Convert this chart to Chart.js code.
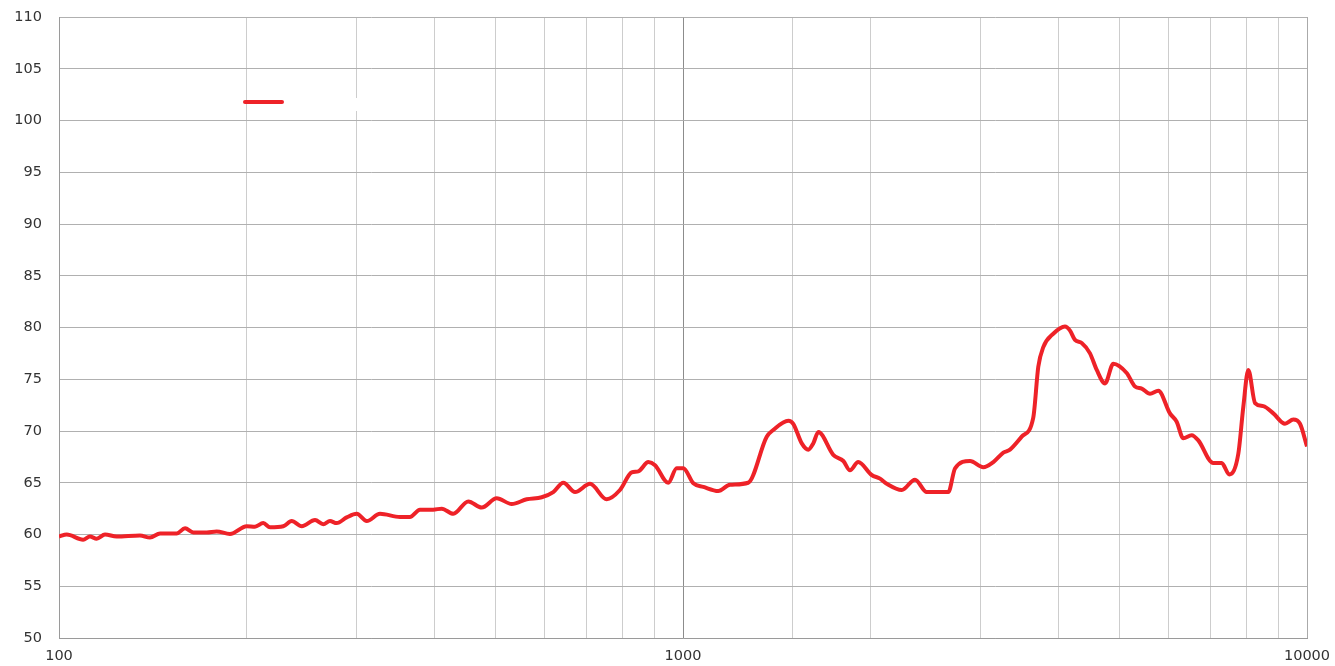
<!DOCTYPE html>
<html>
<head>
<meta charset="utf-8">
<script src="https://cdn.jsdelivr.net/npm/chart.js@4/dist/chart.umd.min.js"></script>
<style>
  body { margin: 0; background: #fff; }
  #wrap { width: 1335px; height: 666px; }
</style>
</head>
<body>
<div id="wrap"><canvas id="myChart" width="1335" height="666"></canvas></div>
<script>
// frequency response
var freqs = [100, 102.9, 109.3, 112.1, 114.9, 118.5, 123.7, 134.8, 139.9, 145.2,
  154.4, 159.2, 164.2, 172.5, 178.9, 187.9, 199.9, 206.1, 212.5, 217.9,
  228.8, 236, 244.9, 257.2, 265.2, 271.8, 278.6, 289.1, 300, 311.3,
  326.9, 352, 365, 378.9, 397.9, 410.5, 428.5, 452.8, 475.7, 502.8,
  531.5, 561.7, 593.7, 619.6, 643, 671.4, 709.6, 754.6, 792.5, 827.5,
  848, 880, 902, 947.1, 977, 1001, 1039, 1078, 1139, 1189,
  1272, 1362, 1395, 1475, 1502, 1550, 1588, 1617, 1648, 1741,
  1807, 1852, 1909, 2006, 2069, 2121, 2242, 2354, 2458, 2613,
  2662, 2729, 2884, 3029, 3143, 3261, 3342, 3490, 3642, 3710,
  3779, 3921, 4094, 4171, 4248, 4355, 4490, 4603, 4746, 4894,
  5141, 5301, 5434, 5603, 5777, 6031, 6182, 6335, 6534, 6696,
  7076, 7299, 7508, 7761, 7906, 8053, 8255, 8511, 8831, 9220,
  9507, 9745, 10000];
var levels = [59.8, 60.0, 59.5, 59.8, 59.6, 60.0, 59.8, 59.9, 59.7, 60.1,
  60.1, 60.6, 60.2, 60.2, 60.3, 60.05, 60.8, 60.75, 61.1, 60.7,
  60.8, 61.3, 60.8, 61.4, 61.0, 61.3, 61.1, 61.65, 62.0, 61.3,
  62.0, 61.7, 61.7, 62.4, 62.4, 62.5, 62.0, 63.2, 62.6, 63.5,
  62.95, 63.4, 63.6, 64.1, 65.0, 64.1, 64.9, 63.4, 64.3, 66.0,
  66.1, 67.0, 66.7, 65.0, 66.4, 66.4, 64.95, 64.6, 64.2, 64.8,
  65.0, 69.45, 70.1, 71.0, 70.7, 68.8, 68.2, 68.8, 69.9, 67.7,
  67.1, 66.2, 67.0, 65.75, 65.4, 64.9, 64.3, 65.3, 64.1, 64.1,
  64.1, 66.4, 67.1, 66.5, 67.0, 67.9, 68.2, 69.45, 71.3, 76.2,
  78.1, 79.4, 80.1, 79.7, 78.8, 78.5, 77.5, 75.9, 74.6, 76.5,
  75.6, 74.3, 74.1, 73.6, 73.9, 71.7, 70.9, 69.3, 69.6, 69.1,
  66.9, 66.9, 65.8, 67.8, 72.35, 75.9, 72.7, 72.4, 71.7, 70.7,
  71.1, 70.7, 68.5];
var xLabels = [100, 1000, 10000];
var yMin = 50, yMax = 110, yStep = 5;

var points = freqs.map(function (f, i) { return { x: f, y: levels[i] }; });

// the legend swatch in the top left, plus the white patch next to it
var legendMark = {
  id: 'legendMark',
  afterDraw: function (chart) {
    var c = chart.ctx;
    c.save();
    c.fillStyle = '#fff';
    c.fillRect(352, 98, 10, 13);
    c.strokeStyle = '#ee2228';
    c.lineWidth = 4;
    c.lineCap = 'round';
    c.beginPath();
    c.moveTo(245, 102);
    c.lineTo(282, 102);
    c.stroke();
    c.restore();
  }
};

var font = { family: '"DejaVu Sans", Verdana, sans-serif', size: 14.5 };
var noTick = 'rgba(0,0,0,0)';

new Chart(document.getElementById('myChart'), {
  type: 'line',
  data: {
    datasets: [{
      label: '',
      data: points,
      borderColor: '#ee2228',
      borderWidth: 4,
      pointRadius: 0,
      cubicInterpolationMode: 'monotone',
      fill: false
    }]
  },
  options: {
    responsive: false,
    animation: false,
    layout: { padding: { top: 17, right: 28, left: 0, bottom: 0 } },
    plugins: { legend: { display: false }, tooltip: { enabled: false } },
    scales: {
      x: {
        type: 'logarithmic',
        min: 100,
        max: 10000,
        afterFit: function (s) { s.height = 28; },
        border: { color: '#9a9a9a', width: 1 },
        grid: {
          tickLength: 10,
          tickColor: noTick,
          color: function (ctx) {
            if (ctx.tick && ctx.tick.value === 1000) return '#8c8c8c';
            if (ctx.tick && ctx.tick.value === 10000) return '#aaaaaa';
            return '#cdcdcd';
          }
        },
        ticks: {
          autoSkip: false,
          maxRotation: 0,
          padding: 0,
          color: '#333',
          font: font,
          callback: function (v) { return xLabels.indexOf(v) >= 0 ? String(v) : ''; }
        }
      },
      y: {
        min: yMin,
        max: yMax,
        afterFit: function (s) { s.width = 59; },
        border: { color: '#9a9a9a', width: 1 },
        grid: { tickLength: 17, tickColor: noTick, color: '#b0b0b0' },
        ticks: {
          stepSize: yStep,
          padding: 0,
          color: '#333',
          font: font
        }
      }
    }
  },
  plugins: [legendMark]
});
</script>
</body>
</html>
